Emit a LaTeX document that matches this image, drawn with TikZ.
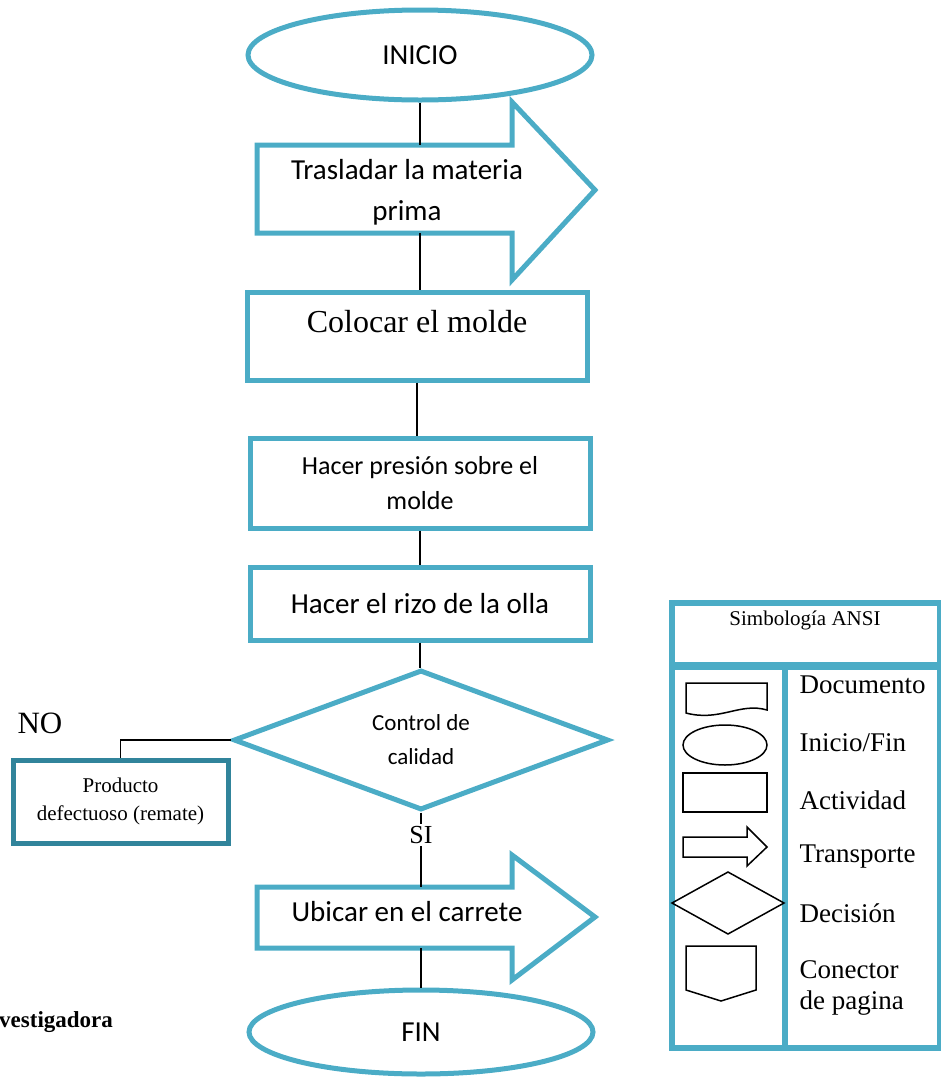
\documentclass[tikz,border=0pt]{standalone}
\usepackage{fontspec}
\setmainfont{Liberation Serif}
\newfontfamily\calibri{Carlito}
\usetikzlibrary{shapes.geometric}

\definecolor{ansiblue}{RGB}{75,172,198}
\definecolor{ansidark}{RGB}{49,132,155}

\tikzset{
  flow/.style={draw=ansiblue, line width=5pt},
  link/.style={draw=black, line width=1.8pt},
  sym/.style={draw=black, line width=1.5pt},
  leyenda/.style={anchor=west, font=\fontsize{27}{31}\selectfont, align=left},
}

\begin{document}
\begin{tikzpicture}[x=1pt,y=-1pt]
\useasboundingbox (0,0) rectangle (941,1080);

% inicio
\node[flow, ellipse, minimum width=344pt, minimum height=90pt, inner sep=0pt, font=\calibri\fontsize{29}{34}\selectfont] (inicio) at (420,55) {INICIO};

% transporte de materia prima
\draw[flow] (257,145) -- (512,145) -- (512,102) -- (595,190) -- (512,280) -- (512,233) -- (257,233) -- cycle;
\node[font=\calibri\fontsize{29}{41}\selectfont, align=center] (trasladar) at (407,192) {Trasladar la materia\\prima};
\coordinate (trasladar-in) at (420,145);
\coordinate (trasladar-out) at (420,233);

% actividades
\node[flow, minimum width=340pt, minimum height=88pt, align=center, font=\fontsize{32}{30}\selectfont] (colocar) at (417,336) {Colocar el molde\\\mbox{}};
\node[flow, minimum width=340pt, minimum height=90pt, align=center, font=\calibri\fontsize{26}{35}\selectfont] (presion) at (420,483) {Hacer presión sobre el\\molde};
\node[flow, minimum width=340pt, minimum height=73pt, font=\calibri\fontsize{29}{35}\selectfont] (rizo) at (420,603.5) {Hacer el rizo de la olla};

% decision
\node[flow, diamond, aspect=2.68, minimum width=375pt, minimum height=140pt, inner sep=0pt, align=center, font=\calibri\fontsize{23}{34}\selectfont] (control) at (421,740) {Control de\\calidad};
\node[font=\fontsize{26}{30}\selectfont, inner sep=2pt] (si) at (421,835) {SI};
\node[font=\fontsize{31}{36}\selectfont] (no) at (40,723) {NO};
\node[draw=ansidark, line width=5pt, minimum width=215pt, minimum height=83pt, align=center, font=\fontsize{21}{28}\selectfont] (producto) at (120.5,801.5) {Producto\\defectuoso (remate)};

% transporte al carrete
\draw[flow] (257,887) -- (512,887) -- (512,855) -- (595,917) -- (512,980) -- (512,948) -- (257,948) -- cycle;
\node[font=\calibri\fontsize{29}{35}\selectfont] (ubicar) at (407,912) {Ubicar en el carrete};
\coordinate (ubicar-in) at (421,887);
\coordinate (ubicar-out) at (421,948);

% fin
\node[flow, ellipse, minimum width=344pt, minimum height=84pt, inner sep=0pt, font=\calibri\fontsize{29}{34}\selectfont] (fin) at (421,1032) {FIN};

% lineas de flujo
\draw[link] (inicio.south) -- (trasladar-in);
\draw[link] (trasladar-out) -- (trasladar-out |- colocar.north);
\draw[link] (colocar.south) -- (colocar.south |- presion.north);
\draw[link] (presion.south) -- (rizo.north);
\draw[link] (rizo.south) -- (rizo.south |- control.north);
\draw[link] (control.south) -- (si.north);
\draw[link] (si.south) -- (ubicar-in);
\draw[link] (ubicar-out) -- (fin.north);
\draw[link] (control.west) -| (producto.north);

\node[anchor=west, inner sep=0pt, font=\bfseries\fontsize{23}{26}\selectfont] (fuente) at (-1,1022) {vestigadora};

% simbologia
\draw[flow, line width=6pt] (672,603) rectangle (940,1048);
\draw[flow, line width=8pt] (672,666) -- (940,666);
\draw[flow, line width=6pt] (785,666) -- (785,1048);
\node[font=\fontsize{21}{25}\selectfont] (ansi) at (805,620) {Simbología ANSI};

\draw[sym] (767,710) .. controls (740,702) and (720,722) .. (686,713) -- (686,683) -- (767,683) -- cycle;
\draw[sym] (725,745) ellipse [x radius=42, y radius=20];
\draw[sym] (683,773) rectangle (767,812);
\draw[sym] (683,837) -- (747,837) -- (747,827) -- (767,847) -- (747,866) -- (747,857) -- (683,857) -- cycle;
\draw[sym] (672,903) -- (728,872) -- (784,903) -- (728,934) -- cycle;
\draw[sym] (686,946) -- (756,946) -- (756,990) -- (721,1001) -- (686,990) -- cycle;

\node[leyenda] (documento) at (796,685) {Documento};
\node[leyenda] (iniciofin) at (796,743) {Inicio/Fin};
\node[leyenda] (actividad) at (796,800) {Actividad};
\node[leyenda] (transporte) at (796,857) {Transporte};
\node[leyenda] (decision) at (796,913) {Decisión};
\node[leyenda] (conector) at (796,988) {Conector\\de pagina};

\end{tikzpicture}
\end{document}
